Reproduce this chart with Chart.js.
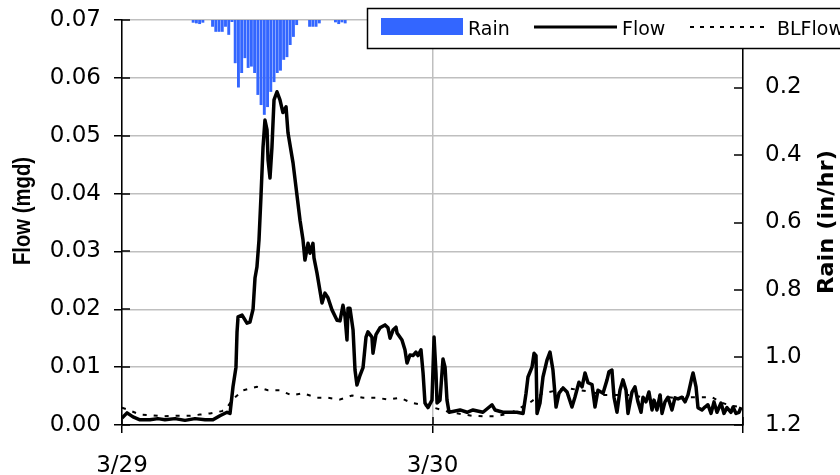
<!DOCTYPE html>
<html><head><meta charset="utf-8">
<script src="https://cdn.jsdelivr.net/npm/chart.js@4.4.0/dist/chart.umd.min.js"></script>
<style>html,body{margin:0;padding:0;background:#fff;overflow:hidden}#wrap{width:840px;height:475px;position:relative}</style>
</head><body><div id="wrap"><canvas id="c" width="840" height="475"></canvas></div>
<script>
// x values are hours after 3/29 00:00
const xTickLabels = ['3/29', '3/30', ''];

const flowHours = [0.00,0.39,0.85,1.39,2.16,2.78,3.32,4.10,4.87,5.64,6.42,7.03,7.57,8.12,8.35,8.58,8.81,8.89,8.97,9.28,9.66,9.89,10.13,10.28,10.43,10.59,10.74,10.90,11.05,11.21,11.29,11.44,11.59,11.75,11.98,12.21,12.44,12.68,12.83,13.22,13.76,13.99,14.14,14.38,14.53,14.76,14.84,15.07,15.46,15.69,15.92,16.23,16.62,16.85,17.08,17.24,17.39,17.47,17.62,17.86,18.01,18.16,18.40,18.63,18.86,19.01,19.32,19.40,19.63,19.94,20.33,20.56,20.72,20.95,21.18,21.26,21.64,21.87,22.03,22.26,22.49,22.72,22.88,23.11,23.27,23.42,23.65,23.96,24.12,24.27,24.35,24.58,24.81,24.97,25.12,25.28,26.13,26.67,27.13,27.90,28.60,28.83,29.45,30.53,31.00,31.23,31.38,31.69,31.85,32.00,32.08,32.31,32.54,32.85,33.08,33.31,33.55,33.78,34.09,34.40,34.78,35.01,35.32,35.56,35.79,36.02,36.33,36.56,36.79,37.18,37.49,37.64,37.87,38.03,38.26,38.49,38.72,38.96,39.11,39.42,39.65,39.88,40.12,40.27,40.50,40.73,40.97,41.12,41.35,41.59,41.74,41.97,42.20,42.51,42.74,42.98,43.29,43.52,43.75,44.06,44.14,44.37,44.52,44.83,45.06,45.29,45.53,45.76,45.99,46.30,46.53,46.76,47.07,47.23,47.46,47.69,47.85];
const flowValues = [0.0012,0.0021,0.0014,0.0009,0.0009,0.0011,0.0009,0.0011,0.0008,0.0011,0.0009,0.0009,0.0016,0.0022,0.0020,0.0066,0.0100,0.0160,0.0187,0.0190,0.0176,0.0178,0.0200,0.0254,0.0273,0.0320,0.0394,0.0480,0.0527,0.0510,0.0458,0.0427,0.0480,0.0562,0.0576,0.0562,0.0540,0.0550,0.0505,0.0453,0.0354,0.0320,0.0285,0.0314,0.0297,0.0314,0.0289,0.0263,0.0211,0.0228,0.0220,0.0199,0.0181,0.0180,0.0207,0.0187,0.0147,0.0202,0.0202,0.0164,0.0095,0.0069,0.0086,0.0099,0.0152,0.0161,0.0152,0.0124,0.0156,0.0168,0.0173,0.0168,0.0150,0.0164,0.0169,0.0159,0.0147,0.0130,0.0107,0.0121,0.0120,0.0126,0.0120,0.0130,0.0090,0.0038,0.0030,0.0043,0.0152,0.0090,0.0038,0.0043,0.0114,0.0100,0.0043,0.0022,0.0026,0.0022,0.0026,0.0022,0.0035,0.0026,0.0022,0.0022,0.0020,0.0055,0.0083,0.0100,0.0124,0.0120,0.0020,0.0038,0.0083,0.0112,0.0126,0.0095,0.0031,0.0055,0.0064,0.0057,0.0031,0.0048,0.0074,0.0066,0.0090,0.0073,0.0070,0.0031,0.0060,0.0055,0.0078,0.0092,0.0095,0.0048,0.0022,0.0060,0.0078,0.0060,0.0020,0.0057,0.0066,0.0040,0.0022,0.0048,0.0040,0.0057,0.0026,0.0043,0.0026,0.0052,0.0020,0.0040,0.0048,0.0026,0.0047,0.0045,0.0048,0.0040,0.0052,0.0083,0.0090,0.0066,0.0030,0.0026,0.0031,0.0035,0.0020,0.0040,0.0022,0.0038,0.0020,0.0030,0.0022,0.0031,0.0020,0.0022,0.0031];

const blHours = [0.00,0.39,1.39,2.16,3.17,4.10,5.26,6.03,6.80,7.73,8.12,8.50,9.35,10.43,11.29,12.21,13.14,13.99,15.07,15.92,16.85,17.78,18.63,19.71,20.56,21.49,22.42,23.42,24.58,25.35,27.05,27.90,28.83,29.99,31.54,32.46,34.40,35.40,36.33,37.18,39.27,40.27,41.59,42.59,43.67,44.52,45.60,46.38,47.23,48.00];
const blValues = [0.0030,0.0027,0.0018,0.0017,0.0015,0.0016,0.0016,0.0018,0.0020,0.0024,0.0030,0.0043,0.0060,0.0066,0.0060,0.0060,0.0051,0.0055,0.0047,0.0047,0.0044,0.0051,0.0047,0.0047,0.0044,0.0047,0.0038,0.0034,0.0027,0.0022,0.0016,0.0015,0.0015,0.0020,0.0039,0.0054,0.0064,0.0060,0.0057,0.0052,0.0052,0.0048,0.0050,0.0047,0.0048,0.0048,0.0048,0.0038,0.0033,0.0030];

const rainHours = [5.50,5.75,6.00,6.25,7.00,7.25,7.50,7.75,8.00,8.25,8.50,8.75,9.00,9.25,9.50,9.75,10.00,10.25,10.50,10.75,11.00,11.25,11.50,11.75,12.00,12.25,12.50,12.75,13.00,13.25,13.50,14.50,14.75,15.00,15.25,16.50,16.75,17.00,17.25];
const rainValues = [0.008,0.010,0.012,0.008,0.020,0.035,0.035,0.035,0.020,0.044,0.006,0.128,0.200,0.157,0.113,0.142,0.138,0.157,0.222,0.252,0.281,0.258,0.213,0.184,0.157,0.150,0.118,0.110,0.074,0.050,0.015,0.020,0.020,0.020,0.010,0.007,0.012,0.007,0.010];

const toXY = (xs, ys) => xs.map((x, i) => ({x: x, y: ys[i]}));

const innerTicks = {
  id: 'innerTicks',
  afterDraw(chart) {
    const c = chart.ctx, a = chart.chartArea;
    c.save(); c.strokeStyle = '#000'; c.lineWidth = 1.5;
    const y = chart.scales.y;
    y.ticks.forEach(t => { const p = Math.round(y.getPixelForValue(t.value)); c.beginPath(); c.moveTo(a.left, p); c.lineTo(a.left + 8, p); c.stroke(); });
    const r = chart.scales.yRain;
    r.ticks.forEach(t => { const p = Math.round(r.getPixelForValue(t.value)); c.beginPath(); c.moveTo(a.right, p); c.lineTo(a.right - 9, p); c.stroke(); });
    const x = chart.scales.x;
    x.ticks.forEach(t => { const p = Math.round(x.getPixelForValue(t.value)); c.beginPath(); c.moveTo(p, a.bottom); c.lineTo(p, a.bottom - 8); c.stroke(); });
    c.restore();
  }
};

function rotatedText(c, text, font, cx, cy, length) {
  c.save(); c.translate(cx, cy); c.rotate(-Math.PI / 2);
  c.font = font;
  const w = c.measureText(text).width;
  c.scale(length / w, 1);
  c.fillText(text, 0, 0);
  c.restore();
}

const axisTitles = {
  id: 'axisTitles',
  afterDraw(chart) {
    const c = chart.ctx;
    c.save(); c.fillStyle = '#000'; c.textAlign = 'center'; c.textBaseline = 'middle';
    rotatedText(c, 'Flow (mgd)', 'bold 24px "Liberation Sans"', 23, 211, 108);
    rotatedText(c, 'Rain (in/hr)', 'bold 22px "DejaVu Sans"', 827, 222, 144);
    c.restore();
  }
};

const legendBox = {
  id: 'legendBox',
  afterDraw(chart) {
    const c = chart.ctx;
    const ds = chart.data.datasets;
    c.save();
    c.fillStyle = '#fff'; c.fillRect(367, 8, 480, 41);
    c.strokeStyle = '#000'; c.lineWidth = 1.5; c.strokeRect(367.5, 8.5, 480, 40);
    c.fillStyle = ds[2].backgroundColor; c.fillRect(381, 18, 82, 17);
    c.font = '19px "DejaVu Sans"'; c.fillStyle = '#000'; c.textBaseline = 'alphabetic'; c.textAlign = 'left';
    c.fillText(ds[2].label, 468, 35);
    c.lineWidth = 3; c.beginPath(); c.moveTo(534, 27); c.lineTo(617, 27); c.stroke();
    c.fillText(ds[0].label, 622, 35);
    c.lineWidth = 2; c.setLineDash([4, 6]); c.beginPath(); c.moveTo(690, 27); c.lineTo(766, 27); c.stroke(); c.setLineDash([]);
    c.fillText(ds[1].label, 777, 35);
    c.restore();
  }
};

const tickFont = {family: 'DejaVu Sans', size: 23};
const noPad = s => { s.paddingTop = 0; s.paddingBottom = 0; s.paddingLeft = 0; s.paddingRight = 0; };

new Chart(document.getElementById('c').getContext('2d'), {
  type: 'bar',
  data: {
    datasets: [
      {type: 'line', label: 'Flow', data: toXY(flowHours, flowValues), yAxisID: 'y', borderColor: '#000', borderWidth: 3.5, pointRadius: 0, tension: 0, order: 1, borderJoinStyle: 'round'},
      {type: 'line', label: 'BLFlow', data: toXY(blHours, blValues), yAxisID: 'y', borderColor: '#000', borderWidth: 2, borderDash: [4, 7], pointRadius: 0, tension: 0, order: 2},
      {type: 'bar', label: 'Rain', data: toXY(rainHours, rainValues), yAxisID: 'yRain', backgroundColor: '#3366FF', barPercentage: 0.9, categoryPercentage: 1, order: 3}
    ]
  },
  options: {
    responsive: false, animation: false, devicePixelRatio: 1,
    layout: {padding: {top: 20, left: 0, right: 0, bottom: 0}},
    plugins: {legend: {display: false}, tooltip: {enabled: false}},
    scales: {
      x: {
        type: 'linear', position: 'bottom', min: 0, max: 48, offset: false,
        ticks: {stepSize: 24, callback: (v, i) => xTickLabels[i], font: tickFont, color: '#000', padding: 19, maxRotation: 0, autoSkip: false},
        grid: {color: '#bfbfbf', lineWidth: 1.5, tickColor: '#000', tickLength: 8, offset: false},
        border: {color: '#000', width: 1.5},
        afterFit: s => { s.height = 50; noPad(s); }
      },
      y: {
        position: 'left', min: 0, max: 0.07,
        ticks: {stepSize: 0.01, callback: v => v.toFixed(2), font: tickFont, color: '#000', padding: 13},
        grid: {color: '#bfbfbf', lineWidth: 1.5, tickColor: '#000', tickLength: 8},
        border: {color: '#000', width: 1.5},
        afterFit: s => { s.width = 122; noPad(s); }
      },
      yRain: {
        position: 'right', min: 0, max: 1.2, reverse: true,
        ticks: {stepSize: 0.2, callback: v => (v === 0 ? '' : v.toFixed(1)), font: tickFont, color: '#000', padding: 22},
        grid: {display: false, drawTicks: false},
        border: {display: true, color: '#000', width: 1.5},
        afterFit: s => { s.width = 97; noPad(s); }
      }
    }
  },
  plugins: [innerTicks, axisTitles, legendBox]
});
</script>
</body></html>
